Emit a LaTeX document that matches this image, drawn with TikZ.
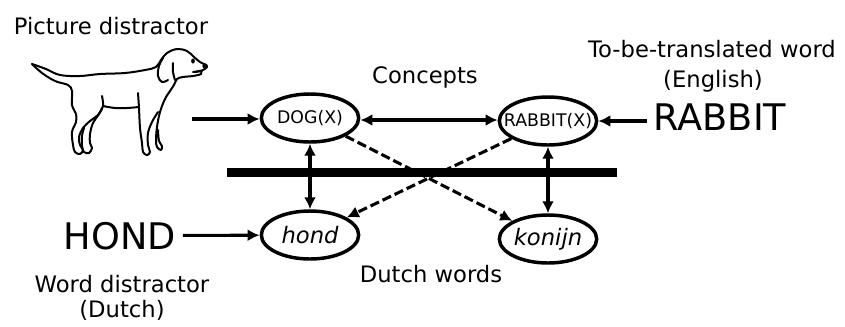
\documentclass[tikz,border=0pt]{standalone}
\usepackage{fontspec}
\setmainfont{DejaVu Sans}
\usetikzlibrary{arrows.meta,shapes.geometric}

% keep the ellipse at its own size whatever the text width
\newcommand\inell[1]{\makebox[0pt]{#1}}

\begin{document}
\begin{tikzpicture}[x=0.75pt, y=-0.75pt,
    concept/.style={ellipse, draw, line width=2.6pt, inner sep=0pt, minimum width=73pt, minimum height=36pt},
    caption/.style={font=\fontsize{17}{20}\selectfont, anchor=base},
    bigword/.style={font=\fontsize{27.5}{30}\selectfont, anchor=base, inner sep=5pt},
    link/.style={line width=2.3pt, {Latex[length=9pt,width=9pt]}-{Latex[length=9pt,width=9pt]}},
    feed/.style={line width=2.3pt, -{Latex[length=9pt,width=9pt]}},
    cross/.style={line width=2.3pt, dash pattern=on 7pt off 3pt, -{Latex[length=9pt,width=9pt]}}]
\useasboundingbox (0,0) rectangle (845,326);

% the dog
\begin{scope}[line width=1.5pt, line cap=round, line join=round]
\draw plot[smooth, tension=0.6] coordinates {(32,64) (46,69) (60,75) (80,76) (100,74) (125,73) (145,70) (156,67) (161,60) (167,53) (177,49) (187,51) (194,57) (200,62) (206,65)};
\draw plot[smooth, tension=0.6] coordinates {(206,65) (207,67) (203,70) (195,72)};
\draw plot[smooth, tension=0.6] coordinates {(201,71) (201,74) (193,76) (183,77) (177,79) (174,85) (170,91) (165,99) (160,112) (157,127) (156,140) (157,147) (161,150) (162,146) (159,141) (158,130)};
\draw plot[smooth, tension=0.6] coordinates {(32,64) (42,73) (55,81) (68,85) (72,91) (72,105) (76,114) (76,122) (72,132) (73,145) (75,152) (80,154) (83,150) (80,145) (79,137) (83,128) (90,121) (98,115) (102,108)};
\draw plot[smooth, tension=0.6] coordinates {(102,96) (103,106) (99,114) (93,123) (90,134) (90,143) (92,148) (89,153) (84,152) (82,146) (82,136) (84,128)};
\draw plot[smooth, tension=0.6] coordinates {(103,106) (115,108) (127,108) (139,107)};
\draw plot[smooth, tension=0.6] coordinates {(138,93) (139,108) (140,128) (142,143) (143,152) (147,155) (150,152) (148,145) (148,133) (152,122) (158,112)};
\draw plot[smooth, tension=0.6] coordinates {(163,58) (159,66) (158,76) (162,82) (168,80)};
\draw plot[smooth, tension=0.6] coordinates {(173,63) (173,72) (175,80)};
\draw (193,72) -- (202,71);
\fill (193,61) ellipse [x radius=1.4pt, y radius=1.9pt];
\fill (205,66) circle (2pt);
\end{scope}

\node[caption] (piccap) at (111,34) {Picture distractor};
\node[caption] (concepts) at (425,83) {Concepts};
\node[caption] (transcap) at (712,57) {To-be-translated word};
\node[caption] (engcap) at (713,87) {(English)};
\node[caption] (dutchwords) at (431,282) {Dutch words};
\node[caption] (wordcap) at (122,292) {Word distractor};
\node[caption] (dutchcap) at (122,317) {(Dutch)};

\node[bigword] (rabbitword) at (720,130) {RABBIT};
\node[bigword] (hondword) at (120,249) {HOND};

\node[concept, font=\fontsize{13}{15}\selectfont] (dog) at (310,118) {\inell{DOG(X)}};
\node[concept, font=\fontsize{13}{15}\selectfont] (rabbit) at (548,121) {\inell{RABBIT(X)}};
\node[concept, font=\fontsize{17}{20}\selectfont\itshape] (hond) at (310,235) {\inell{hond}};
\node[concept, font=\fontsize{17}{20}\selectfont\itshape] (konijn) at (548,239) {\inell{konijn}};

% barrier between concepts and words
\draw[line width=6.75pt] (227,172) -- (617,172);

\coordinate (dogpic) at (192,119);
\draw[feed] (dogpic) -- (dogpic -| dog.west);
\draw[feed] (hondword) -- (hond);
\draw[feed] (rabbitword.west |- rabbit) -- (rabbit);
\draw[link] (dog.east |- 0,120) -- (rabbit.west |- 0,120);
\draw[link] (dog) -- (hond);
\draw[link] (rabbit) -- (konijn);
\draw[cross] (dog) -- (konijn);
\draw[cross] (rabbit) -- (hond);
\end{tikzpicture}
\end{document}
